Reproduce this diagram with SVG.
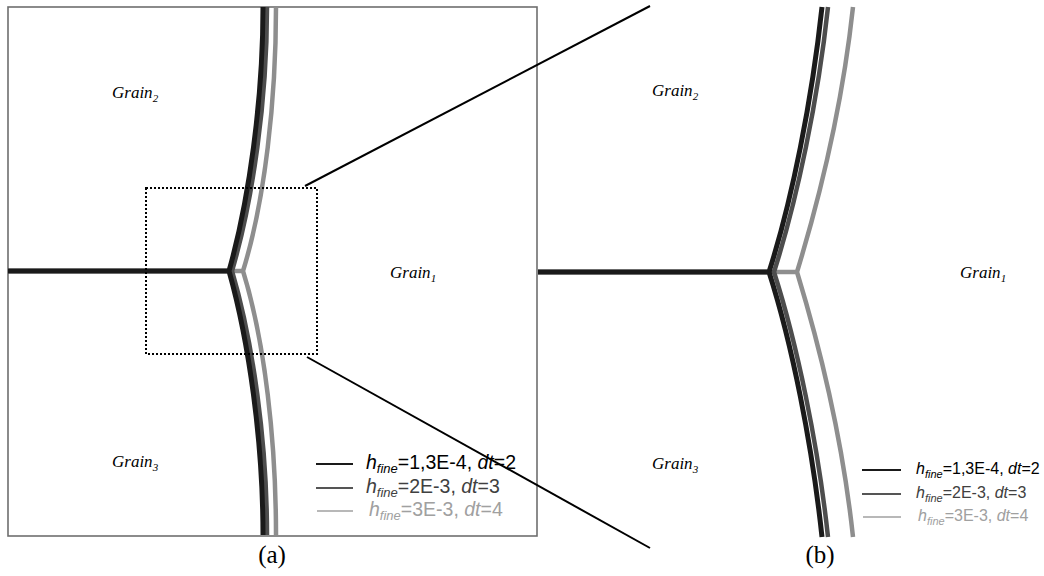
<svg xmlns="http://www.w3.org/2000/svg" width="1044" height="576" viewBox="0 0 1044 576">
<style>
.c{fill:none;stroke-linejoin:round;stroke-linecap:butt}
.k{stroke:#1a1a1a;stroke-width:5}
.d{stroke:#4d4d4d;stroke-width:4.5}
.g{stroke:#8e8e8e;stroke-width:4.5}
.gr{font-family:"Liberation Serif",serif;font-style:italic;font-size:17px;fill:#000}
.sub{font-size:11px}
.lg{font-family:"Liberation Sans",Arial,sans-serif;font-size:16px}
.lga{font-family:"Liberation Sans",Arial,sans-serif;font-size:19.5px}
.lab{font-family:"Liberation Serif",serif;font-size:25px;fill:#000}
</style>
<rect width="1044" height="576" fill="#fff"/>
<g id="panel-a">
  <rect x="8" y="7" width="529" height="529" fill="none" stroke="#6e6e6e" stroke-width="1.6"/>
  <g id="curves-a">
    <path class="c g" d="M8,271 H243 M276,7 C276,100 265,200 243,271 C265,342 276,442 276,535"/>
    <path class="c d" d="M8,271 H232 M267,7 C267,100 253,200 232,271 C253,342 267,442 267,535"/>
    <path class="c k" d="M8,271 H229 M263,7 C263,100 249,200 229,271 C249,342 263,442 263,535"/>
  </g>
  <g id="zoom-box">
    <rect x="146" y="188" width="171" height="166" fill="none" stroke="#000" stroke-width="2" stroke-dasharray="2,2"/>
  </g>
  <text class="gr" x="112" y="98">Grain<tspan class="sub" dy="4">2</tspan></text>
  <text class="gr" x="390" y="278">Grain<tspan class="sub" dy="4">1</tspan></text>
  <text class="gr" x="112" y="467">Grain<tspan class="sub" dy="4">3</tspan></text>
  <g id="legend-a">
    <line x1="316" y1="464" x2="353" y2="464" stroke="#1a1a1a" stroke-width="2"/>
    <line x1="316" y1="488" x2="353" y2="488" stroke="#555" stroke-width="2"/>
    <line x1="317" y1="511" x2="353" y2="511" stroke="#a0a0a0" stroke-width="1.5"/>
    <text class="lga" x="366" y="469" fill="#000"><tspan font-style="italic">h</tspan><tspan font-style="italic" font-size="13" dy="4">fine</tspan><tspan dy="-4">=1,3E-4, </tspan><tspan font-style="italic">dt</tspan>=2</text>
    <text class="lga" x="366" y="493" fill="#404040"><tspan font-style="italic">h</tspan><tspan font-style="italic" font-size="13" dy="4">fine</tspan><tspan dy="-4">=2E-3, </tspan><tspan font-style="italic">dt</tspan>=3</text>
    <text class="lga" x="369" y="516" fill="#a0a0a0"><tspan font-style="italic">h</tspan><tspan font-style="italic" font-size="13" dy="4">fine</tspan><tspan dy="-4">=3E-3, </tspan><tspan font-style="italic">dt</tspan>=4</text>
  </g>
  <text class="lab" x="272" y="563" text-anchor="middle">(a)</text>
</g>
<g id="connectors">
  <line x1="305" y1="186" x2="650" y2="6" stroke="#000" stroke-width="2"/>
  <line x1="307" y1="357" x2="650" y2="548" stroke="#000" stroke-width="2"/>
</g>
<g id="panel-b">
  <g id="curves-b">
    <path class="c g" d="M538,272 H797 M853,7 C843,100 822,190 797,272 C822,354 843,444 853,537"/>
    <path class="c d" d="M538,272 H774 M828,7 C818,100 797,200 774,272 C797,344 818,444 828,537"/>
    <path class="c k" d="M538,272 H769 M822,7 C812,100 792,200 769,272 C792,344 812,444 822,537"/>
  </g>
  <text class="gr" x="652" y="96">Grain<tspan class="sub" dy="4">2</tspan></text>
  <text class="gr" x="960" y="278">Grain<tspan class="sub" dy="4">1</tspan></text>
  <text class="gr" x="652" y="469">Grain<tspan class="sub" dy="4">3</tspan></text>
  <g id="legend-b">
    <line x1="862" y1="470" x2="901" y2="470" stroke="#1a1a1a" stroke-width="2"/>
    <line x1="862" y1="494" x2="901" y2="494" stroke="#555" stroke-width="2"/>
    <line x1="863" y1="517" x2="901" y2="517" stroke="#a0a0a0" stroke-width="1.5"/>
    <text class="lg" x="916" y="474" fill="#000"><tspan font-style="italic">h</tspan><tspan font-style="italic" font-size="11" dy="4">fine</tspan><tspan dy="-4">=1,3E-4, </tspan><tspan font-style="italic">dt</tspan>=2</text>
    <text class="lg" x="916" y="498" fill="#404040"><tspan font-style="italic">h</tspan><tspan font-style="italic" font-size="11" dy="4">fine</tspan><tspan dy="-4">=2E-3, </tspan><tspan font-style="italic">dt</tspan>=3</text>
    <text class="lg" x="918" y="521" fill="#a0a0a0"><tspan font-style="italic">h</tspan><tspan font-style="italic" font-size="11" dy="4">fine</tspan><tspan dy="-4">=3E-3, </tspan><tspan font-style="italic">dt</tspan>=4</text>
  </g>
  <text class="lab" x="820" y="563" text-anchor="middle">(b)</text>
</g>
</svg>
